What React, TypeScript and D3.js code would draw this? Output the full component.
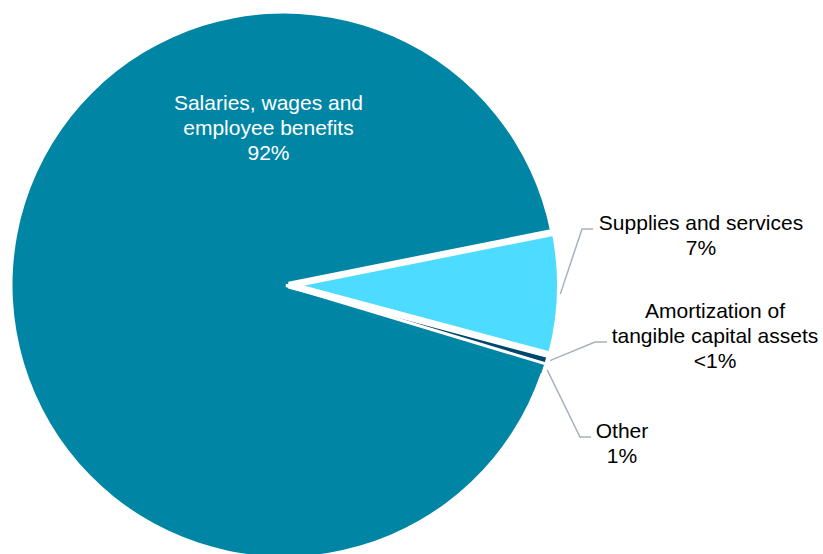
import React from "react";
import * as d3 from "d3";

// ---- data (clockwise order as drawn, starting at the upper edge of "Supplies") ----
const categories = [
  "Supplies and services",
  "Amortization of tangible capital assets",
  "Other",
  "Salaries, wages and employee benefits",
];
const values = [7.3, 0.5, 0.6, 91.6];
const percentLabels = ["7%", "<1%", "1%", "92%"];
const labelLines = [
  ["Supplies and services"],
  ["Amortization of", "tangible capital assets"],
  ["Other"],
  ["Salaries, wages and", "employee benefits"],
];

const W = 823;
const H = 554;
const CX = 284;
const CY = 285;
const R = 271.5;
const START_DEG = 78.7; // d3 angle (0 = 12 o'clock, clockwise)

const colors = ["#4DDBFF", "#00476B", "#0086A4", "#0086A4"];
const strokes = ["#FFFFFF", "#FFFFFF", "#0086A4", "none"];
const strokeWidths = [7, 3, 1, 0];
const explode = [5, 2, 0, 0];

// label layout (anchor x, first baseline y, elbow and end of leader line)
const labelX = [701, 715, 622, 268.5];
const labelY = [230, 318, 438, 110];
const elbow: ([number, number] | null)[] = [[582, 229], [595, 342], [580, 437], null];
const leaderEnd: (number | null)[] = [593, 607, 591, null];
const textColors = ["#000000", "#000000", "#000000", "#FFFFFF"];

const FONT = "Arial, 'Liberation Sans', sans-serif";
const FS = 21;
const LH = 25;

function polar(a: number, r: number): [number, number] {
  return [Math.sin(a) * r, -Math.cos(a) * r];
}

export default function App() {
  const data = categories.map((c, i) => ({ i, name: c, value: values[i] }));
  const start = (START_DEG * Math.PI) / 180;
  const pie = d3
    .pie<{ i: number; name: string; value: number }>()
    .sort(null)
    .value((d) => d.value)
    .startAngle(start)
    .endAngle(start + 2 * Math.PI);
  const arcs = pie(data);
  const arc = d3
    .arc<d3.PieArcDatum<{ i: number; name: string; value: number }>>()
    .innerRadius(0)
    .outerRadius(R);

  // draw order: Salaries, Other, Amortization, Supplies
  const drawOrder = [3, 2, 1, 0];

  return (
    <svg
      width={W}
      height={H}
      style={{ position: "absolute", left: 0, top: 0, background: "#fff" }}
    >
      <g transform={`translate(${CX},${CY})`}>
        {drawOrder.map((k) => {
          const a = arcs[k];
          const mid = (a.startAngle + a.endAngle) / 2;
          const [dx, dy] = polar(mid, explode[k]);
          return (
            <path
              key={k}
              d={arc(a) || ""}
              transform={`translate(${dx},${dy})`}
              fill={colors[k]}
              stroke={strokes[k]}
              strokeWidth={strokeWidths[k]}
              strokeLinejoin="miter"
            />
          );
        })}
      </g>
      {arcs.map((a, k) => {
        const el = elbow[k];
        if (!el) return null;
        const mid = (a.startAngle + a.endAngle) / 2;
        const [sx, sy] = polar(mid, R + 5);
        const pts: [number, number][] = [
          [CX + sx, CY + sy],
          el,
          [leaderEnd[k] as number, el[1]],
        ];
        return (
          <polyline
            key={"l" + k}
            points={pts.map((p) => p.join(",")).join(" ")}
            fill="none"
            stroke="#A6B1BC"
            strokeWidth={1.5}
          />
        );
      })}
      {arcs.map((a, k) => {
        const lines = [...labelLines[k], percentLabels[k]];
        return (
          <text
            key={"t" + k}
            x={labelX[k]}
            y={labelY[k]}
            textAnchor="middle"
            fontFamily={FONT}
            fontSize={FS}
            fill={textColors[k]}
          >
            {lines.map((ln, j) => (
              <tspan key={j} x={labelX[k]} dy={j === 0 ? 0 : LH}>
                {ln}
              </tspan>
            ))}
          </text>
        );
      })}
    </svg>
  );
}
